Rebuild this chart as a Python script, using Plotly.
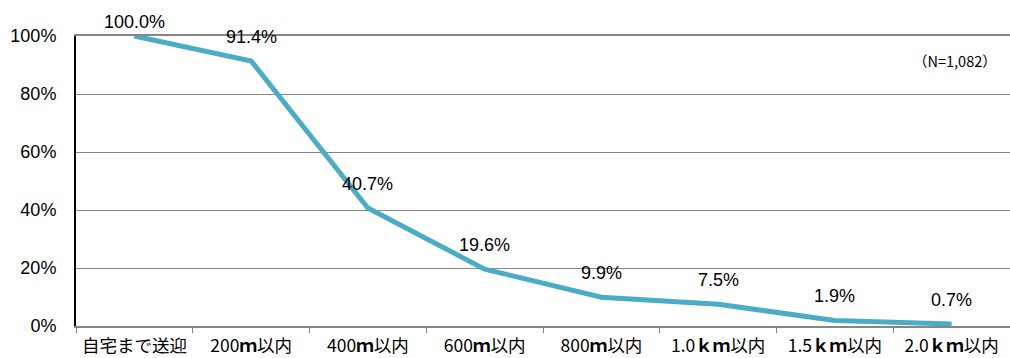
import plotly.graph_objects as go

categories = ["自宅まで送迎", "200ｍ以内", "400ｍ以内", "600ｍ以内", "800ｍ以内",
              "1.0ｋｍ以内", "1.5ｋｍ以内", "2.0ｋｍ以内"]
values = [100.0, 91.4, 40.7, 19.6, 9.9, 7.5, 1.9, 0.7]
y_ticks = [0, 20, 40, 60, 80, 100]
y_tick_labels = ["0%", "20%", "40%", "60%", "80%", "100%"]

FONT = "Liberation Sans, Arial, Noto Sans CJK JP, sans-serif"
W, H = 1010, 358
ML, MR, MT, MB = 76, 0, 36, 32
PLOT_H = H - MT - MB

cat_text = [c.replace("ｋ", "<b>ｋ</b>").replace("ｍ", "<b>ｍ</b>") for c in categories]

fig = go.Figure()
fig.add_trace(go.Scatter(
    x=categories, y=values, mode="lines",
    line=dict(color="#4BACC6", width=5),
    hoverinfo="skip", cliponaxis=False,
))

for c, v in zip(categories, values):
    px_from_top = MT + (100 - v) / 100 * PLOT_H
    shift = min(24, px_from_top - 22)
    fig.add_annotation(x=c, y=v, text=f"{v:.1f}%", showarrow=False,
                       yanchor="middle", yshift=shift,
                       font=dict(size=18, color="#000000", family=FONT))

fig.add_annotation(xref="paper", yref="paper", x=0.941, y=0.917,
                   xanchor="center", yanchor="middle",
                   text="（N=1,082）", showarrow=False,
                   font=dict(size=14.5, color="#000000", family="Noto Sans CJK JP, sans-serif"))

fig.update_layout(
    width=W, height=H,
    margin=dict(l=ML, r=MR, t=MT, b=MB, autoexpand=False),
    paper_bgcolor="white", plot_bgcolor="white",
    showlegend=False,
    font=dict(family=FONT, color="#000000"),
)
fig.update_xaxes(
    type="category", tickson="boundaries", automargin=False,
    categoryorder="array", categoryarray=categories,
    range=[-0.5, len(categories) - 0.5],
    tickvals=categories, ticktext=cat_text,
    ticks="outside", ticklen=5, tickcolor="#868686",
    showline=True, linecolor="#868686", linewidth=2, mirror=True,
    showgrid=False, ticklabelstandoff=3,
    tickfont=dict(size=17.5, family="Noto Sans CJK JP, sans-serif"),
)
fig.update_yaxes(
    range=[0, 100], tickvals=y_ticks, ticktext=y_tick_labels, automargin=False,
    showgrid=True, gridcolor="#868686", gridwidth=1,
    showline=True, linecolor="#000000", linewidth=2,
    ticks="", tickfont=dict(size=18), ticklabelstandoff=14,
    zeroline=False,
)

fig.write_html(
    "out.html",
    config={"displayModeBar": False},
    post_script="document.body.style.margin='0';document.body.style.overflow='hidden';",
)
